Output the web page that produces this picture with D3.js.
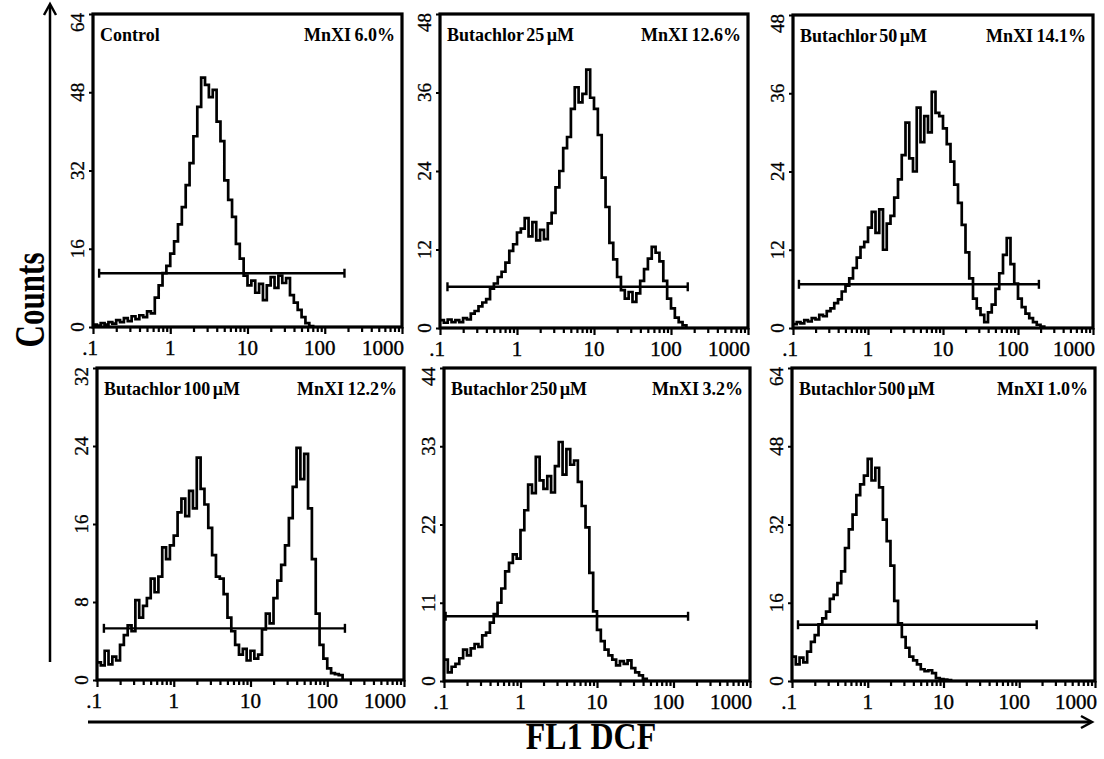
<!DOCTYPE html>
<html>
<head>
<meta charset="utf-8">
<script src="https://cdn.jsdelivr.net/npm/d3@7"></script>
<style>
  body { margin: 0; background: #fff; }
  svg { display: block; font-family: "Liberation Serif", "Times New Roman", serif; }
</style>
</head>
<body>
<svg id="chart" width="1104" height="759"></svg>
<script>
// histogram channels: log10(FL1) starting at -1 (= 0.1), 0.05 decade per bin
var binStart = -1, binStep = 0.05;

var panelTitles = ["Control", "Butachlor 25 µM", "Butachlor 50 µM",
                   "Butachlor 100 µM", "Butachlor 250 µM", "Butachlor 500 µM"];
var mnxiLabels = ["MnXI 6.0%", "MnXI 12.6%", "MnXI 14.1%",
                  "MnXI 12.2%", "MnXI 3.2%", "MnXI 1.0%"];
var yMaxima = [64, 48, 48, 32, 44, 64];
var yTickSets = [[0, 16, 32, 48, 64], [0, 12, 24, 36, 48], [0, 12, 24, 36, 48],
                 [0, 8, 16, 24, 32], [0, 11, 22, 33, 44], [0, 16, 32, 48, 64]];

var countsControl = [0.5,0.3,0.8,0.5,1.0,0.7,1.4,1.0,1.8,1.2,
  2.2,1.6,2.4,2.0,3.2,2.8,6.0,8.5,11.0,12.5,
  15.0,17.5,21.0,24.5,29.0,33.5,39.0,45.0,51.0,49.5,
  47.0,48.5,42.0,38.0,30.0,26.0,22.5,17.0,14.0,10.5,
  8.5,9.5,7.0,8.8,5.5,8.5,10.2,8.0,10.5,9.0,
  10.0,6.5,5.0,3.5,2.0,0.8,0.2,0];
var counts25 = [1.2,0.8,1.3,0.9,1.2,0.9,1.5,1.3,2.2,2.6,
  3.3,3.9,4.4,6.0,6.8,7.8,8.6,10.0,11.8,12.8,
  14.6,15.2,16.8,14.0,16.2,13.4,15.0,13.6,16.0,17.6,
  21.5,24.0,27.5,29.2,33.5,36.8,34.5,35.8,39.5,35.2,
  33.5,29.5,23.0,18.5,13.0,10.5,7.8,5.8,4.5,5.5,
  4.0,5.3,7.2,9.0,10.6,12.4,11.5,10.2,7.2,4.5,
  3.0,1.6,0.9,0.4,0];
var counts50 = [0.6,0.9,0.7,1.2,1.0,1.5,1.3,2.0,1.8,2.6,
  3.0,3.8,4.4,5.6,6.5,7.6,9.2,10.8,12.4,13.2,
  15.4,17.8,14.6,18.2,12.0,16.0,17.2,20.0,22.8,26.5,
  31.5,26.0,24.0,33.8,28.5,32.5,30.0,36.2,33.0,32.5,
  30.6,28.2,25.5,22.0,19.2,15.8,11.6,7.6,4.5,3.0,
  2.0,0.9,2.4,3.6,6.0,8.4,11.2,13.8,9.8,6.8,
  4.5,3.2,2.2,1.5,0.9,0.5,0.2,0];
var counts100 = [1.8,1.5,3.0,1.6,2.4,2.0,3.6,4.6,5.6,5.0,
  8.2,6.4,7.6,8.4,10.4,9.0,10.6,13.6,12.4,13.8,
  14.8,17.2,18.6,16.8,19.4,17.6,22.8,19.6,18.0,15.6,
  12.8,10.6,10.4,8.8,6.4,5.0,3.6,2.6,3.2,2.0,
  3.0,2.2,2.6,5.2,6.8,5.8,8.4,10.2,11.8,13.8,
  16.6,19.8,23.8,20.6,23.2,17.6,12.4,6.8,3.6,2.2,
  1.2,0.7,0.6,0.5,0];
var counts250 = [3.0,1.2,2.0,2.4,3.2,4.4,3.6,4.6,5.2,4.8,
  6.4,6.8,8.2,9.4,11.0,13.0,15.4,16.6,17.8,17.2,
  21.2,24.0,27.6,26.4,31.5,28.2,27.0,28.8,26.5,30.2,
  33.6,29.0,32.6,30.4,31.0,28.0,24.6,21.6,15.2,9.8,
  7.2,5.6,4.4,3.6,3.0,2.2,2.8,2.4,2.9,1.8,
  1.2,0.8,0.3,0];
var counts500 = [5.0,3.4,4.8,3.8,6.0,8.0,9.4,11.6,12.8,14.2,
  16.8,17.6,20.0,22.4,27.2,31.0,34.0,38.0,40.2,42.0,
  45.4,41.0,43.6,39.6,33.0,28.6,23.6,16.4,11.8,9.0,
  6.8,5.0,4.2,3.4,2.4,2.0,2.2,1.6,0.6,0.4,
  0.3,0.2,0];

// M1 marker gates
var gateLow = [0.12, 0.125, 0.12, 0.123, 0.105, 0.12];
var gateHigh = [180, 165, 190, 170, 155, 170];
var gateLevel = [11, 6.3, 6.7, 5.3, 9.1, 11.5];

var decadeTicks = [0.1, 1, 10, 100, 1000];
var decadeLabels = [".1", "1", "10", "100", "1000"];

var countSeries = [countsControl, counts25, counts50, counts100, counts250, counts500];

// panel frames on the page
var boxes = [
  {x0: 93, y0: 14, x1: 402, y1: 327},
  {x0: 440, y0: 14, x1: 748, y1: 328},
  {x0: 793, y0: 15, x1: 1093, y1: 328},
  {x0: 97, y0: 368, x1: 404, y1: 680},
  {x0: 444, y0: 368, x1: 750, y1: 681},
  {x0: 792, y0: 368, x1: 1095, y1: 681}
];

var svg = d3.select("#chart");

function drawPanel(i) {
  var b = boxes[i];
  var w = b.x1 - b.x0, h = b.y1 - b.y0;
  var g = svg.append("g").attr("transform", `translate(${b.x0},${b.y0})`);

  var x = d3.scaleLog().domain([0.1, 1000]).range([0, w]);
  var y = d3.scaleLinear().domain([0, yMaxima[i]]).range([h, 0]);

  // bottom ticks (decades + 2..9)
  var bottom = g.append("g")
    .attr("transform", `translate(0,${h})`)
    .call(d3.axisBottom(x).tickValues(x.ticks()).tickSize(5).tickFormat(""));
  bottom.select(".domain").remove();
  bottom.selectAll(".tick line")
    .attr("stroke", "#000")
    .attr("stroke-width", 2.2)
    .attr("y2", d => decadeTicks.indexOf(d) >= 0 ? 7 : 5);

  // left ticks
  var left = g.append("g")
    .call(d3.axisLeft(y).tickValues(yTickSets[i]).tickSize(4).tickFormat(""));
  left.select(".domain").remove();
  left.selectAll(".tick line").attr("stroke", "#000").attr("stroke-width", 2);

  // x labels
  g.selectAll(".xlab")
    .data(decadeTicks)
    .enter().append("text")
    .attr("class", "xlab")
    .attr("x", (d, k) => x(d) + (k === 0 ? -3 : k === 3 ? -5 : k === 4 ? 2 : 0))
    .attr("y", h + 28)
    .attr("text-anchor", (d, k) => k === 4 ? "end" : "middle")
    .style("font-size", "21px")
    .attr("stroke", "#000").attr("stroke-width", 0.4)
    .text((d, k) => decadeLabels[k]);

  // y labels, rotated
  var top = yMaxima[i];
  g.selectAll(".ylab")
    .data(yTickSets[i])
    .enter().append("text")
    .attr("class", "ylab")
    .attr("transform", d => `translate(-9,${d === top ? y(d) - 1 : y(d)}) rotate(-90)`)
    .attr("text-anchor", d => d === top ? "end" : "middle")
    .style("font-size", "19px")
    .attr("stroke", "#000").attr("stroke-width", 0.3)
    .text(d => d);

  // histogram
  var pts = countSeries[i].map((c, k) => [Math.pow(10, binStart + k * binStep), c]);
  var line = d3.line()
    .x(d => x(d[0]))
    .y(d => y(d[1]))
    .curve(d3.curveStepAfter);
  g.append("path")
    .attr("d", line(pts))
    .attr("fill", "none")
    .attr("stroke", "#000")
    .attr("stroke-width", 2.7);

  // gate marker
  var gy = y(gateLevel[i]);
  var gx0 = x(gateLow[i]), gx1 = x(gateHigh[i]);
  g.append("line")
    .attr("x1", gx0).attr("x2", gx1).attr("y1", gy).attr("y2", gy)
    .attr("stroke", "#000").attr("stroke-width", 2.4);
  [gx0, gx1].forEach(function(cx) {
    g.append("line")
      .attr("x1", cx).attr("x2", cx).attr("y1", gy - 4.5).attr("y2", gy + 4.5)
      .attr("stroke", "#000").attr("stroke-width", 2.4);
  });

  // frame
  g.append("rect")
    .attr("width", w).attr("height", h)
    .attr("fill", "none")
    .attr("stroke", "#000")
    .attr("stroke-width", 3.2);

  // titles
  g.append("text")
    .attr("x", 7).attr("y", 27)
    .style("font-size", "18px").style("font-weight", "bold")
    .style("word-spacing", "-2px")
    .text(panelTitles[i]);
  g.append("text")
    .attr("x", w - 7).attr("y", 27)
    .attr("text-anchor", "end")
    .style("font-size", "18px").style("font-weight", "bold")
    .style("word-spacing", "-1px")
    .text(mnxiLabels[i]);
}

for (var i = 0; i < 6; i++) drawPanel(i);

// axis arrows
svg.append("line")
  .attr("x1", 50).attr("x2", 50).attr("y1", 662).attr("y2", 5)
  .attr("stroke", "#000").attr("stroke-width", 2.5);
svg.append("path")
  .attr("d", "M44,15 L50,4 L56,15")
  .attr("fill", "none").attr("stroke", "#000").attr("stroke-width", 2.5);

svg.append("line")
  .attr("x1", 88).attr("x2", 1091).attr("y1", 722).attr("y2", 722)
  .attr("stroke", "#000").attr("stroke-width", 3);
svg.append("path")
  .attr("d", "M1081,716 L1092,722 L1081,728")
  .attr("fill", "none").attr("stroke", "#000").attr("stroke-width", 2.5);

// axis titles
svg.append("text")
  .attr("transform", "translate(44,300) rotate(-90) scale(0.74,1)")
  .attr("text-anchor", "middle")
  .style("font-size", "42px").style("font-weight", "bold")
  .text("Counts");

svg.append("text")
  .attr("transform", "translate(591,749) scale(0.84,1)")
  .attr("text-anchor", "middle")
  .style("font-size", "38px").style("font-weight", "bold")
  .text("FL1 DCF");
</script>
</body>
</html>
